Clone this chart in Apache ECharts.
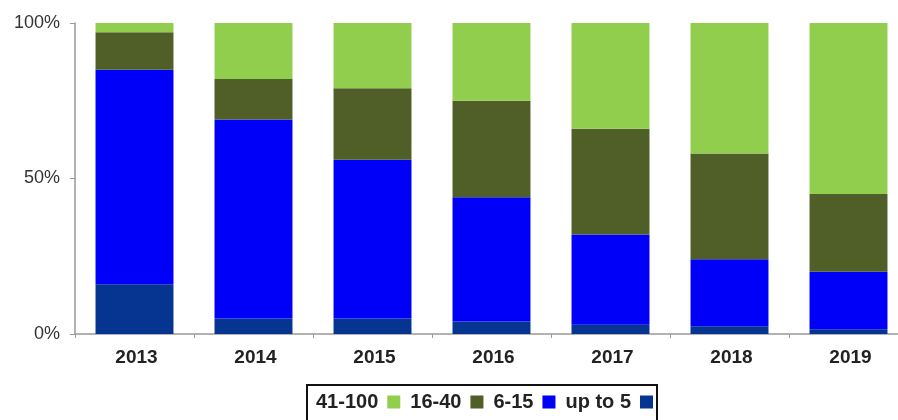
<!DOCTYPE html>
<html>
<head>
<meta charset="utf-8">
<script src="https://cdn.jsdelivr.net/npm/echarts@6/dist/echarts.min.js"></script>
<style>html,body{margin:0;padding:0;background:#fff}#c{width:898px;height:420px}</style>
</head>
<body>
<div id="c"></div>
<script>
var categories = ['2013', '2014', '2015', '2016', '2017', '2018', '2019'];
var upTo5 = [16, 5, 5, 4, 3, 2.5, 1.5];
var s6to15 = [69, 64, 51, 40, 29, 21.5, 18.5];
var s16to40 = [12, 13, 23, 31, 34, 34, 25];
var s41to100 = [3, 18, 21, 25, 34, 42, 55];
var yTicks = [0, 50, 100];

var chart = echarts.init(document.getElementById('c'));
var font = 'Liberation Sans, Arial, sans-serif';
function bar(name, data, color) {
  return { name: name, type: 'bar', stack: 'a', data: data, barWidth: '65.5%',
    itemStyle: { color: color }, emphasis: { disabled: true } };
}
chart.setOption({
  animation: false,
  backgroundColor: '#fff',
  grid: { left: 75, width: 833, top: 23, bottom: 86, outerBoundsMode: 'none', containLabel: false },
  legend: {
    data: ['41-100', '16-40', '6-15', 'up to 5'],
    left: 307, top: 385,
    align: 'right',
    itemWidth: 13, itemHeight: 13, itemGap: 10,
    borderColor: '#111', borderWidth: 2,
    padding: [7, 4, 20, 9],
    textStyle: { fontFamily: font, fontSize: 20, fontWeight: 'bold', color: '#222', padding: [0, 4, 0, 0] },
    icon: 'rect'
  },
  xAxis: {
    type: 'category', data: categories,
    axisLine: { lineStyle: { color: '#999', width: 1.5 } },
    axisTick: { show: true, length: 4, lineStyle: { color: '#999' } },
    axisLabel: { fontFamily: font, fontSize: 19, fontWeight: 'bold', color: '#222', margin: 14, padding: [0, 0, 0, 4] }
  },
  yAxis: {
    type: 'value', min: yTicks[0], max: yTicks[yTicks.length - 1], interval: 50,
    axisLine: { show: true, lineStyle: { color: '#999', width: 1.5 } },
    axisTick: { show: true, length: 5, lineStyle: { color: '#999' } },
    splitLine: { show: false },
    axisLabel: { fontFamily: font, fontSize: 18, color: '#333', margin: 15, formatter: '{value}%' }
  },
  series: [
    bar('up to 5', upTo5, '#063591'),
    bar('6-15', s6to15, '#0000FA'),
    bar('16-40', s16to40, '#4F5F27'),
    bar('41-100', s41to100, '#92CE4E')
  ]
});
</script>
</body>
</html>
